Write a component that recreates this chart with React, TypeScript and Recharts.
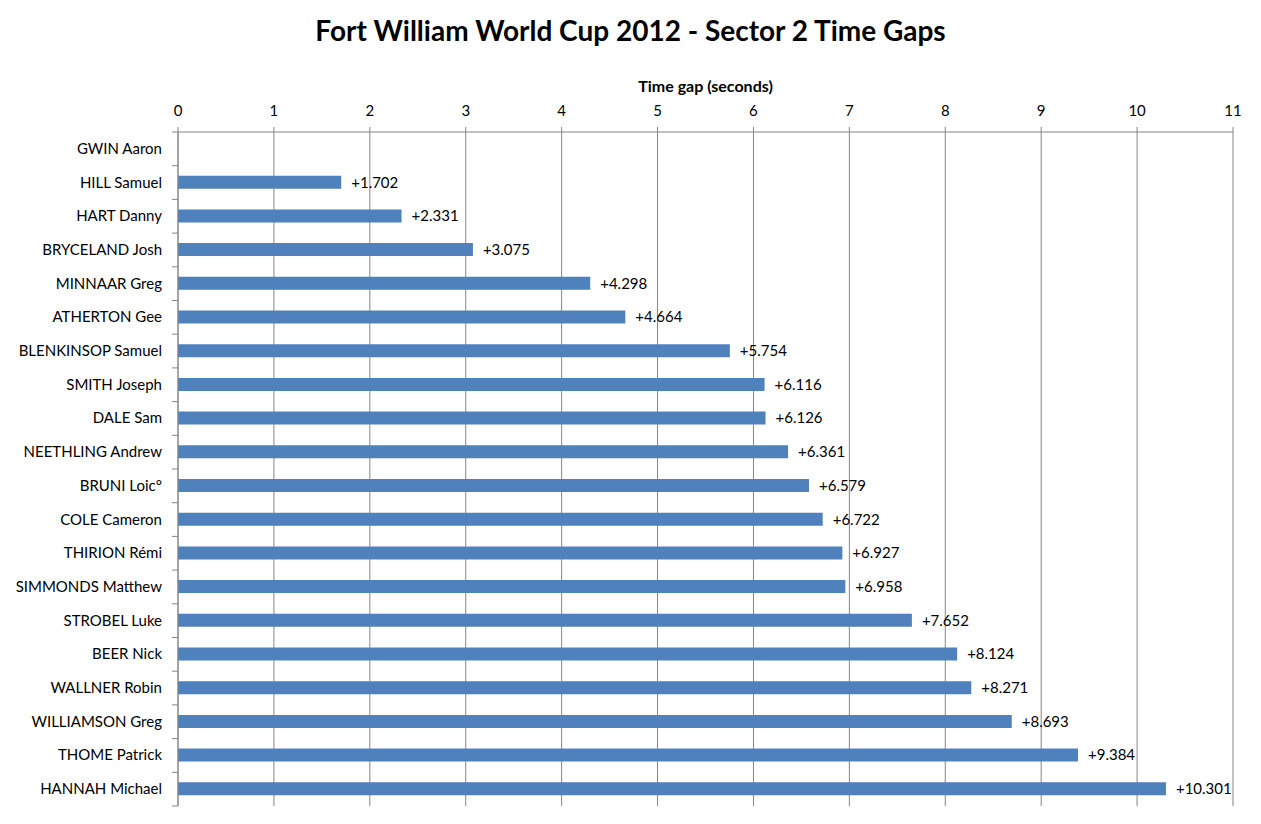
import React from 'react';
import { BarChart, Bar, XAxis, YAxis, CartesianGrid, LabelList } from 'recharts';

const riders = [
  'GWIN Aaron', 'HILL Samuel', 'HART Danny', 'BRYCELAND Josh', 'MINNAAR Greg',
  'ATHERTON Gee', 'BLENKINSOP Samuel', 'SMITH Joseph', 'DALE Sam', 'NEETHLING Andrew',
  'BRUNI Loic°', 'COLE Cameron', 'THIRION Rémi', 'SIMMONDS Matthew', 'STROBEL Luke',
  'BEER Nick', 'WALLNER Robin', 'WILLIAMSON Greg', 'THOME Patrick', 'HANNAH Michael',
];
const gaps = [
  0, 1.702, 2.331, 3.075, 4.298, 4.664, 5.754, 6.116, 6.126, 6.361,
  6.579, 6.722, 6.927, 6.958, 7.652, 8.124, 8.271, 8.693, 9.384, 10.301,
];
const xTicks = [0, 1, 2, 3, 4, 5, 6, 7, 8, 9, 10, 11];

const data = riders.map((name, i) => ({ name, gap: gaps[i] }));

const W = 1261;
const H = 824;
const XH = 30;
const M = { top: 132 - XH, right: 28, bottom: 18, left: 0 };
const YW = 178;
const plotH = H - 132 - M.bottom;
const band = plotH / riders.length;
const FONT = 'Lato, "Noto Sans", sans-serif';
const GRID = '#868686';

const YTick = (props: any) => {
  const { y, payload, index } = props;
  const half = band / 2;
  const axisX = YW;
  return (
    <g>
      <line x1={axisX - 6} x2={axisX} y1={y - half} y2={y - half} stroke={GRID} />
      {index === riders.length - 1 && (
        <line x1={axisX - 6} x2={axisX} y1={y + half} y2={y + half} stroke={GRID} />
      )}
      <text x={axisX - 16} y={y} dy={5} textAnchor="end" fontSize={15} fill="#000" fontFamily={FONT}>
        {payload.value}
      </text>
    </g>
  );
};

export default function App() {
  return (
    <div style={{ position: 'absolute', left: 0, top: 0, width: W, height: H, background: '#fff', fontFamily: FONT }}>
      <div style={{ position: 'absolute', left: 0, top: 13, width: W, textAlign: 'center', fontSize: 28, fontWeight: 700, color: '#000' }}>
        Fort William World Cup 2012 - Sector 2 Time Gaps
      </div>
      <div style={{ position: 'absolute', left: 178, top: 76, width: 1055, textAlign: 'center', fontSize: 16, fontWeight: 700, color: '#000' }}>
        Time gap (seconds)
      </div>
      <BarChart width={W} height={H} data={data} layout="vertical" margin={M}>
        <CartesianGrid horizontal={false} vertical stroke={GRID} strokeWidth={1} />
        <XAxis
          type="number"
          orientation="top"
          height={XH}
          domain={[0, 11]}
          ticks={xTicks}
          interval={0}
          allowDecimals={false}
          tickSize={5}
          tickMargin={11}
          stroke={GRID}
          tick={{ fill: '#000', fontSize: 15, fontFamily: FONT }}
        />
        <YAxis
          type="category"
          dataKey="name"
          width={YW}
          interval={0}
          tickLine={false}
          stroke={GRID}
          tick={<YTick />}
        />
        <Bar dataKey="gap" fill="#4F81BD" isAnimationActive={false} barSize={13}>
          <LabelList
            dataKey="gap"
            position="right"
            offset={10}
            fill="#000"
            fontSize={15}
            fontFamily={FONT}
            formatter={(v: any) => (Number(v) > 0 ? '+' + Number(v).toFixed(3) : '')}
          />
        </Bar>
      </BarChart>
    </div>
  );
}
